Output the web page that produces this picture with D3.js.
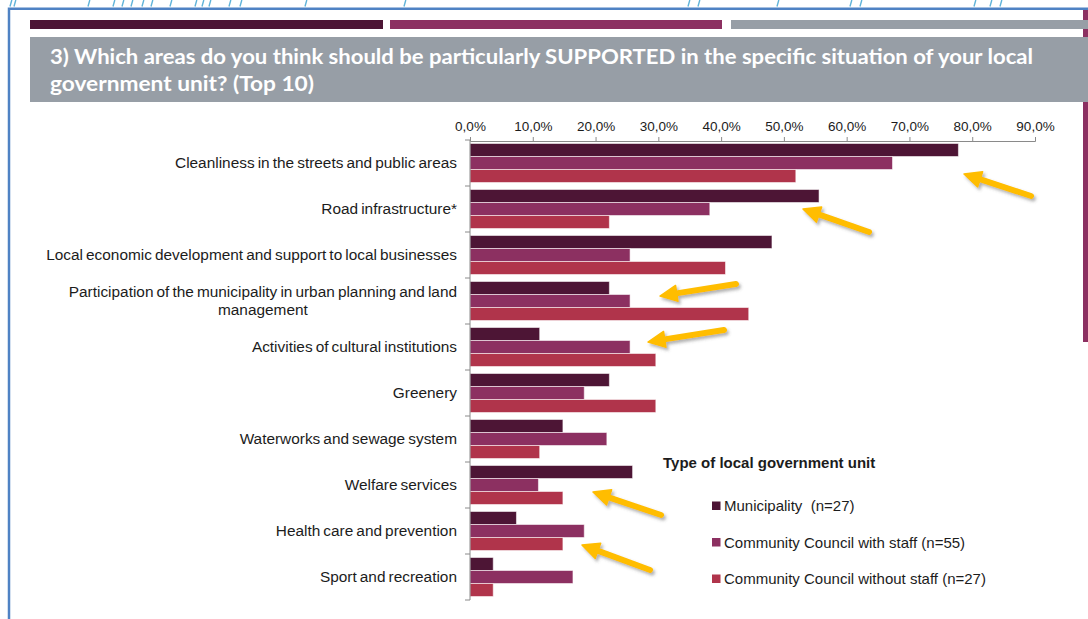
<!DOCTYPE html>
<html>
<head>
<meta charset="utf-8">
<script src="https://cdn.jsdelivr.net/npm/d3@7"></script>
<style>
  html, body { margin: 0; padding: 0; background: #fff; }
  svg { display: block; }
  .cat { font-family: "Liberation Sans", Arial, sans-serif; font-size: 15.4px; fill: #1c1c1c; word-spacing: -1.2px; }
  .tick text { font-family: "Liberation Sans", Arial, sans-serif; font-size: 13.5px; fill: #1c1c1c; }
  .legend { font-family: "Liberation Sans", Arial, sans-serif; font-size: 15px; fill: #1c1c1c; white-space: pre; }
</style>
</head>
<body>
<svg id="chart" width="1088" height="619"></svg>
<script>
// Survey question 3: areas to support, top 10, by type of local government unit (%)
const categories = [
  "Cleanliness in the streets and public areas",
  "Road infrastructure*",
  "Local economic development and support to local businesses",
  "Participation of the municipality in urban planning and land management",
  "Activities of cultural institutions",
  "Greenery",
  "Waterworks and sewage system",
  "Welfare services",
  "Health care and prevention",
  "Sport and recreation"
];
const seriesNames = [
  "Municipality  (n=27)",
  "Community Council with staff (n=55)",
  "Community Council without staff (n=27)"
];
const municipality        = [77.8, 55.6, 48.1, 22.2, 11.1, 22.2, 14.8, 25.9, 7.4, 3.7];
const councilWithStaff    = [67.3, 38.2, 25.5, 25.5, 25.5, 18.2, 21.8, 10.9, 18.2, 16.4];
const councilWithoutStaff = [51.9, 22.2, 40.7, 44.4, 29.6, 29.6, 11.1, 14.8, 14.8, 3.7];
const tickValues = [0, 10, 20, 30, 40, 50, 60, 70, 80, 90];

const titleLines = [
  "3) Which areas do you think should be particularly SUPPORTED in the specific situation of your local",
  "government unit? (Top 10)"
];
const legendTitle = "Type of local government unit";

// Callout arrows: [tailX, tailY, tipX, tipY]
const callouts = [
  [1031, 196, 964, 174],
  [869, 232, 803, 209],
  [736, 284, 660, 296],
  [724, 330, 648, 342],
  [661, 515, 593, 492],
  [650, 570, 582, 545]
];
// Light-blue slash marks along the top edge of the page
const slashXs = [10, 14, 88, 113, 122, 131, 142, 151, 170, 195, 202, 209, 229, 240, 305, 404,
                 688, 698, 777, 850, 860, 974, 990, 1000];

const colors = ["#4d1535", "#8c3061", "#b0344b"];
const series = [municipality, councilWithStaff, councilWithoutStaff];

const svg = d3.select("#chart");
const defs = svg.append("defs");

const shadow = defs.append("filter").attr("id", "arrowShadow")
  .attr("x", "-20%").attr("y", "-40%").attr("width", "150%").attr("height", "200%");
shadow.append("feDropShadow").attr("dx", 2).attr("dy", 2.5).attr("stdDeviation", 1.6)
  .attr("flood-color", "#555").attr("flood-opacity", 0.45);

// ---------- page decoration ----------
svg.append("g").selectAll("line").data(slashXs).join("line")
  .attr("x1", d => d).attr("y1", 6.5).attr("x2", d => d + 1.8).attr("y2", 0)
  .attr("stroke", "#5fb3d9").attr("stroke-width", 1.4);

svg.append("rect").attr("x", 1083).attr("y", 9).attr("width", 5).attr("height", 333).attr("fill", "#8c3061");

svg.append("path").attr("d", "M9,619 V8.75 H1088")
  .attr("fill", "none").attr("stroke", "#4f82c4").attr("stroke-width", 2.5);

const headerBars = [[30, 383, "#4d1535"], [390, 722, "#8c3061"], [731, 1088, "#979ea6"]];
svg.append("g").selectAll("rect").data(headerBars).join("rect")
  .attr("x", d => d[0]).attr("y", 20).attr("width", d => d[1] - d[0]).attr("height", 9)
  .attr("fill", d => d[2]);

svg.append("rect").attr("x", 30).attr("y", 37).attr("width", 1058).attr("height", 65).attr("fill", "#979ea6");

// two-line heading
const titleLen = [983, 264];
svg.append("g").selectAll("text").data(titleLines).join("text")
  .attr("x", 50).attr("y", (d, i) => 64 + i * 27)
  .attr("textLength", (d, i) => titleLen[i]).attr("lengthAdjust", "spacingAndGlyphs")
  .style("font-family", "Lato, 'Open Sans', sans-serif")
  .style("font-weight", 700).style("font-size", "21.5px")
  .attr("fill", "#fff")
  .text(d => d);

// ---------- chart ----------
const x = d3.scaleLinear().domain([0, 90]).range([470, 1035]);
const y = d3.scaleBand().domain(categories).range([140, 600]).paddingInner(0.152).paddingOuter(0.076);
const ySub = d3.scaleBand().domain(d3.range(series.length)).range([0, y.bandwidth()]);

// bars
const groups = svg.append("g").selectAll("g").data(categories).join("g")
  .attr("transform", d => `translate(0,${y(d)})`);
groups.selectAll("rect")
  .data((c, i) => series.map((s, k) => ({ k, v: s[i] })))
  .join("rect")
  .attr("x", x(0))
  .attr("y", d => ySub(d.k))
  .attr("width", d => x(d.v) - x(0))
  .attr("height", ySub.bandwidth())
  .attr("fill", d => colors[d.k])
  .attr("stroke", "rgba(255,255,255,0.55)")
  .attr("stroke-width", 1);

// top value axis
const fmt = v => d3.format(".1f")(v).replace(".", ",") + "%";
const xAxis = svg.append("g").attr("transform", "translate(0,141)")
  .call(d3.axisTop(x).tickValues(tickValues).tickFormat(fmt).tickSize(4).tickSizeOuter(4).tickPadding(6));
xAxis.select(".domain").attr("stroke", "#8a8a8a");
xAxis.selectAll(".tick line").attr("stroke", "#8a8a8a");

// category axis with ticks on band boundaries
const yAxis = svg.append("g");
yAxis.append("line").attr("x1", 470).attr("x2", 470).attr("y1", 140).attr("y2", 600)
  .attr("stroke", "#8a8a8a");
const bounds = categories.map(c => y(c) - y.step() * y.paddingInner() / 2).concat([600]);
yAxis.selectAll("line.tk").data(bounds).join("line").attr("class", "tk")
  .attr("x1", 465).attr("x2", 470).attr("y1", d => d).attr("y2", d => d)
  .attr("stroke", "#8a8a8a");

// category labels, wrapped when too long and centred line-on-line
const labelRight = 457;
const maxLabelWidth = 440;
categories.forEach(c => {
  const cy = y(c) + y.bandwidth() / 2;
  const t = svg.append("text").attr("class", "cat").attr("text-anchor", "end")
    .attr("x", labelRight).attr("y", cy + 5).text(c);
  if (t.node().getComputedTextLength() > maxLabelWidth) {
    const words = c.split(" ");
    let line = [];
    const lines = [];
    words.forEach(w => {
      t.text([...line, w].join(" "));
      if (t.node().getComputedTextLength() > maxLabelWidth && line.length) {
        lines.push(line.join(" "));
        line = [w];
      } else line.push(w);
    });
    lines.push(line.join(" "));
    t.remove();
    const first = svg.append("text").attr("class", "cat").attr("text-anchor", "end")
      .attr("x", labelRight).attr("y", cy + 5 - 9 * (lines.length - 1)).text(lines[0]);
    const w0 = first.node().getComputedTextLength();
    lines.slice(1).forEach((ln, i) => {
      svg.append("text").attr("class", "cat").attr("text-anchor", "middle")
        .attr("x", labelRight - w0 / 2).attr("y", cy + 5 - 9 * (lines.length - 1) + 18 * (i + 1)).text(ln);
    });
  }
});

// legend
const lg = svg.append("g");
lg.append("text").attr("x", 663).attr("y", 467.5)
  .style("font-family", "'Liberation Sans', Arial, sans-serif").style("font-size", "15px")
  .style("font-weight", "bold").attr("fill", "#1c1c1c").text(legendTitle);
const items = lg.selectAll("g.item").data(seriesNames).join("g").attr("class", "item")
  .attr("transform", (d, i) => `translate(712,${505.5 + i * 36.5})`);
items.append("rect").attr("x", 0).attr("y", -4).attr("width", 8.5).attr("height", 8.5)
  .attr("fill", (d, i) => colors[i]);
items.append("text").attr("class", "legend").attr("x", 12).attr("y", 5.5).text(d => d);

// callout arrows
const arrowG = svg.append("g").attr("filter", "url(#arrowShadow)");
callouts.forEach(([x1, y1, x2, y2]) => {
  const ang = Math.atan2(y2 - y1, x2 - x1);
  const headLen = 17, headHalf = 8;
  const bx = x2 - headLen * Math.cos(ang), by = y2 - headLen * Math.sin(ang);
  const g = arrowG.append("g");
  g.append("line").attr("x1", x1).attr("y1", y1).attr("x2", bx + 2 * Math.cos(ang)).attr("y2", by + 2 * Math.sin(ang))
    .attr("stroke", "#ffbd00").attr("stroke-width", 6).attr("stroke-linecap", "round");
  const px = -Math.sin(ang), py = Math.cos(ang);
  g.append("path")
    .attr("d", `M${x2},${y2} L${bx + headHalf * px},${by + headHalf * py} L${bx - headHalf * px},${by - headHalf * py} Z`)
    .attr("fill", "#ffbd00").attr("stroke", "#ffbd00").attr("stroke-width", 1.5).attr("stroke-linejoin", "round");
});
</script>
</body>
</html>
